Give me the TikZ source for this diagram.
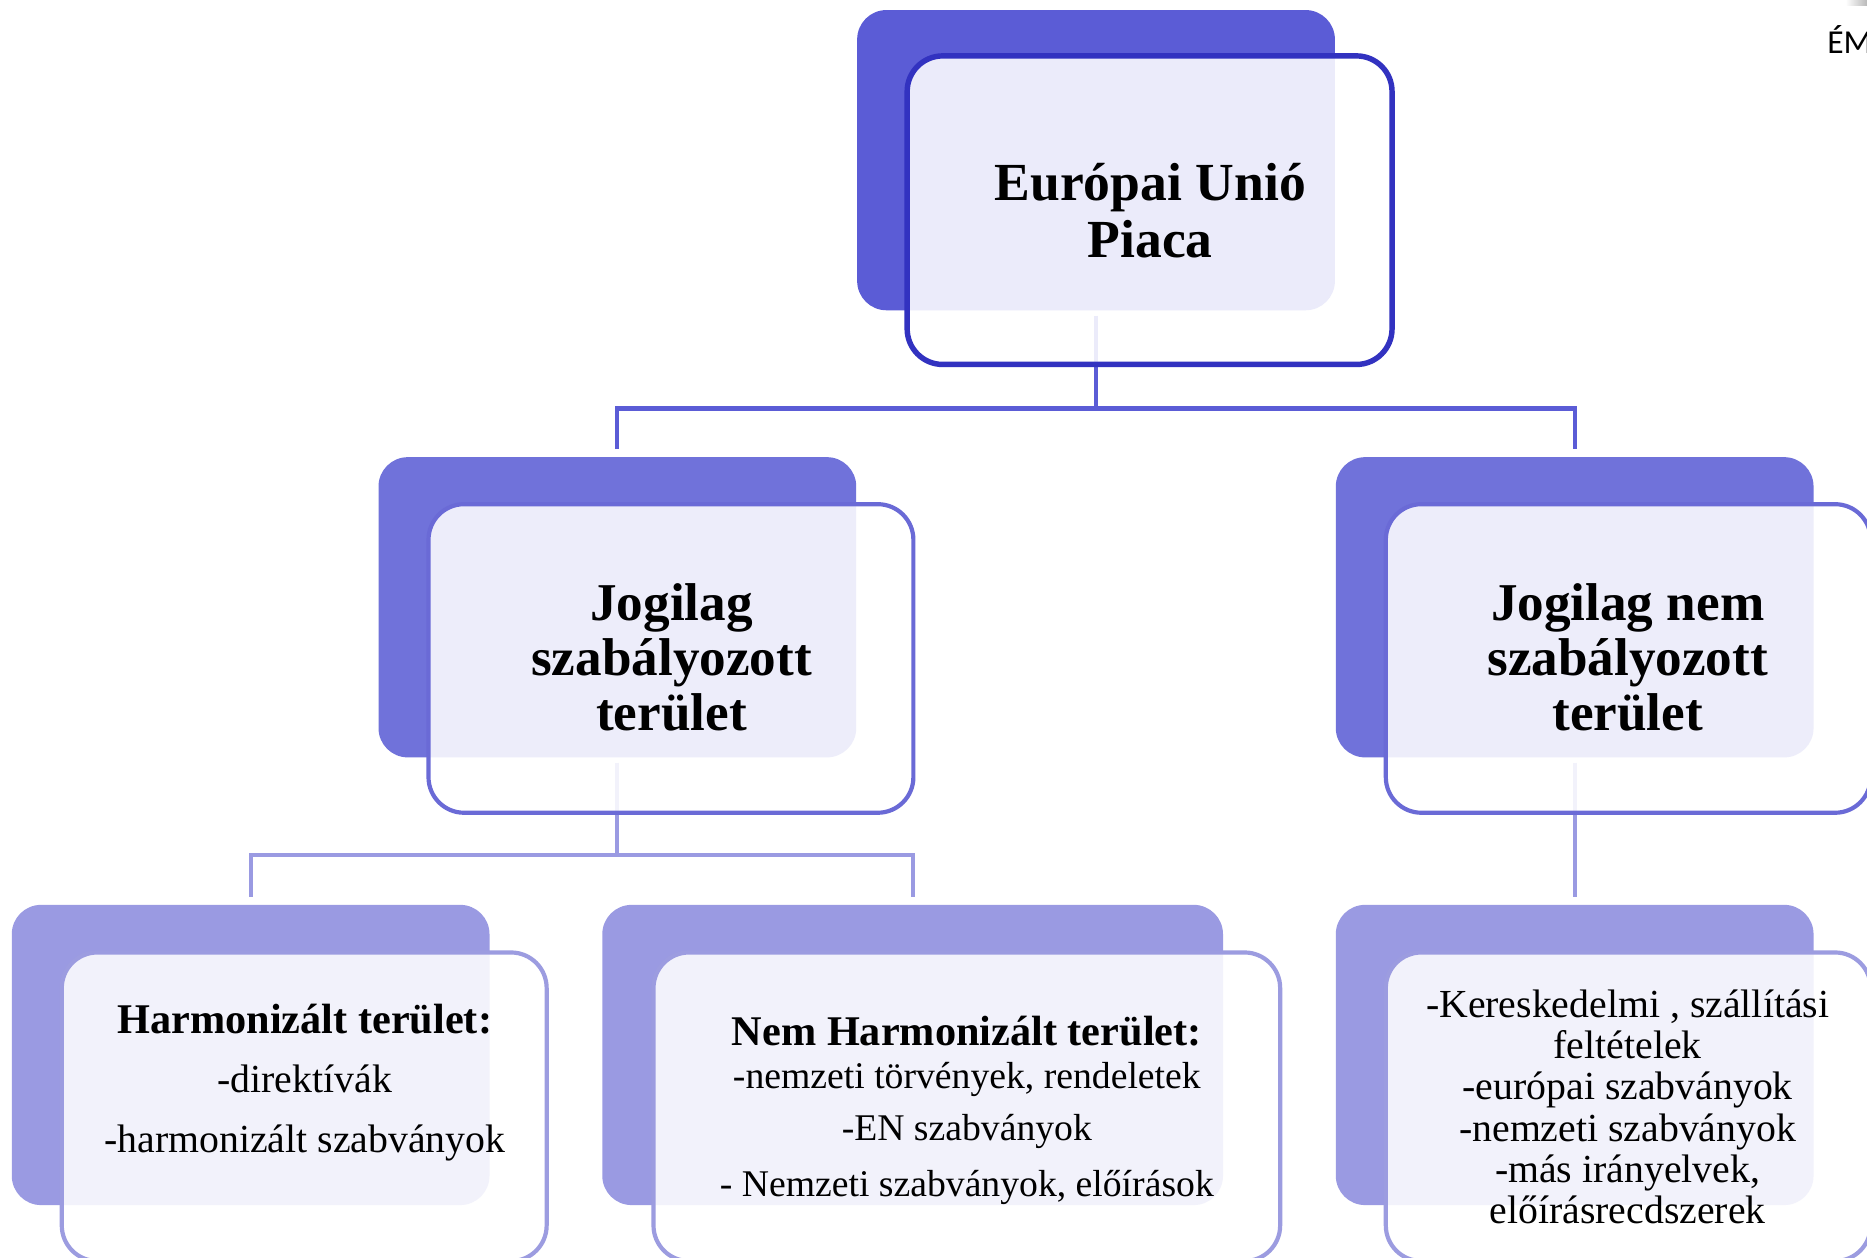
\documentclass[tikz,border=0pt]{standalone}
\usepackage{fontspec}
\setmainfont{Liberation Serif}
\newfontfamily\calibfont{Carlito}
\definecolor{dkA}{HTML}{5B5CD6}
\definecolor{lnA}{HTML}{3232C0}
\definecolor{dkB}{HTML}{7072DA}
\definecolor{lnB}{HTML}{6A6AD6}
\definecolor{dkC}{HTML}{9A9AE2}
\definecolor{lnC}{HTML}{9C9CE0}
\begin{document}
\begin{tikzpicture}[x=0.01cm,y=-0.01cm,
  darkbox/.style={rectangle, rounded corners=7pt, inner sep=0pt, draw=none, minimum height=2.52cm},
  frontbox/.style={rectangle, rounded corners=8.5pt, inner sep=0pt, fill=white, fill opacity=0.88, draw opacity=1, minimum height=2.59cm, minimum width=4.07cm},
  connA/.style={draw=dkA, line width=1pt},
  connB/.style={draw=dkC, line width=1pt},
  titletext/.style={align=center, inner sep=0pt, font=\fontsize{12.7}{13.2}\selectfont\bfseries},
  itemtext/.style={align=center, inner sep=0pt, font=\fontsize{9.5}{9.9}\selectfont}
]
\useasboundingbox (0,0) rectangle (1568,1056);
\clip (0,0) rectangle (1568,1056);
\fill[white] (0,0) rectangle (1568,1056);

% dark back boxes
\node[darkbox, fill=dkA, minimum width=4.01cm] (topD) at (920.5,134.5) {};
\node[darkbox, fill=dkB, minimum width=4.01cm] (midLD) at (518.5,510) {};
\node[darkbox, fill=dkB, minimum width=4.01cm] (midRD) at (1322.5,510) {};
\node[darkbox, fill=dkC, minimum width=4.01cm] (botLD) at (210.5,886) {};
\node[darkbox, fill=dkC, minimum width=5.21cm] (botMD) at (766.5,886) {};
\node[darkbox, fill=dkC, minimum width=4.01cm] (botRD) at (1322.5,886) {};

% connectors
\coordinate (busA) at (920.5,343);
\coordinate (busB) at (518.5,718);
\draw[connA, shorten <=1.1pt] (topD.south) -- (busA);
\draw[connA, shorten <=1.7pt, shorten >=1.7pt] (midLD.north) |- (busA) -| (midRD.north);
\draw[connB, shorten <=1.1pt] (midLD.south) -- (busB);
\draw[connB, shorten <=1.7pt, shorten >=1.7pt] (botLD.north) |- (busB) -| (botMD.north);
\draw[connB, shorten <=1.1pt, shorten >=1.7pt] (midRD.south) -- (botRD.north);

% front boxes
\node[frontbox, draw=lnA, line width=1.3pt] (topF) at (965.5,176.5) {};
\node[frontbox, draw=lnB, line width=1pt] (midLF) at (563.5,553) {};
\node[frontbox, draw=lnB, line width=1pt] (midRF) at (1367.5,553) {};
\node[frontbox, draw=lnC, line width=1pt] (botLF) at (255.5,929.5) {};
\node[frontbox, draw=lnC, line width=1pt, minimum width=5.26cm] (botMF) at (812,929.5) {};
\node[frontbox, draw=lnC, line width=1pt] (botRF) at (1367.5,929.5) {};

% texts
\node[titletext, font=\fontsize{12.8}{13.7}\selectfont\bfseries] (tTop) at (966,177) {Európai Unió\\Piaca};
\node[titletext] (tMidL) at (564,552) {Jogilag\\szabályozott\\terület};
\node[titletext] (tMidR) at (1367,552) {Jogilag nem\\szabályozott\\terület};
\node[itemtext, font=\fontsize{9.5}{14.2}\selectfont] (tBotL) at (256,909)
  {{\fontsize{10.1}{14.2}\selectfont\bfseries Harmonizált terület:}\\-direktívák\\-harmonizált szabványok};
\node[itemtext, font=\fontsize{9}{10.2}\selectfont] (tBotM) at (812,932.5)
  {{\fontsize{10.1}{10.2}\selectfont\bfseries Nem Harmonizált terület:}\\-nemzeti törvények, rendeletek\\[2.3pt]-EN szabványok\\[3.2pt]- Nemzeti szabványok, előírások};
\node[itemtext, font=\fontsize{9.5}{9.85}\selectfont] (tBotR) at (1367,929.5)
  {-Kereskedelmi , szállítási\\feltételek\\-európai szabványok\\-nemzeti szabványok\\-más irányelvek,\\előírásrecdszerek};

% corner fragment
\shade[left color=white, right color=gray!55] (1550,0) rectangle (1568,5);
\node[anchor=base west, inner sep=0pt, font=\calibfont\fontsize{8}{9}\selectfont] (em) at (1534,45) {ÉM};
\end{tikzpicture}
\end{document}
